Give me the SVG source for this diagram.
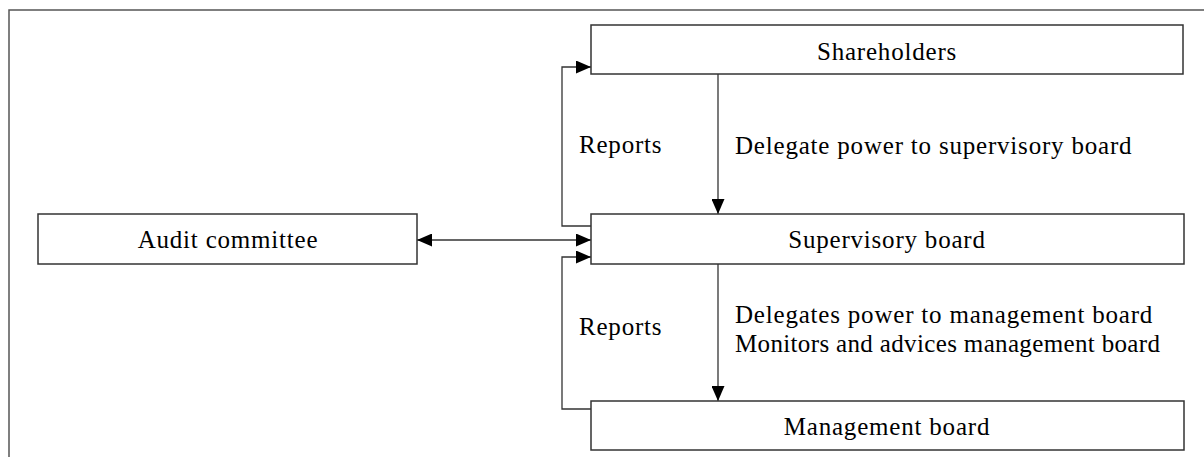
<svg xmlns="http://www.w3.org/2000/svg" width="1204" height="457" viewBox="0 0 1204 457">
<defs>
<style>
.box{fill:#fff;stroke:#333;stroke-width:1.5}
.frame{fill:none;stroke:#555;stroke-width:1.5}
.lbl{font-family:"Liberation Serif","Times New Roman",serif;font-size:25px;fill:#000;letter-spacing:0.8px}
.c{text-anchor:middle}
.tight{letter-spacing:0.35px}
.con{fill:none;stroke:#333;stroke-width:1.3}
</style>
<marker id="ah" viewBox="0 0 15 13" refX="15" refY="6.5" markerWidth="15" markerHeight="13" markerUnits="userSpaceOnUse" orient="auto-start-reverse">
<path d="M0,0 L15,6.5 L0,13 Z" fill="#000"/>
</marker>
</defs>
<rect width="1204" height="457" fill="#fff"/>
<rect class="frame" x="9" y="10" width="1220" height="470"/>
<g id="connectors">
<line class="con" x1="718" y1="74" x2="718" y2="214" marker-end="url(#ah)"/>
<line class="con" x1="718" y1="264" x2="718" y2="401" marker-end="url(#ah)"/>
<line class="con" x1="417" y1="240" x2="591" y2="240" marker-start="url(#ah)" marker-end="url(#ah)"/>
<path class="con" d="M591,226 H562 V67 H591" marker-end="url(#ah)"/>
<path class="con" d="M591,409 H562 V257 H591" marker-end="url(#ah)"/>
<text class="lbl" x="579" y="153">Reports</text>
<text class="lbl" x="735" y="154">Delegate power to supervisory board</text>
<text class="lbl" x="579" y="335">Reports</text>
<text class="lbl" x="735" y="323">Delegates power to management board</text>
<text class="lbl tight" x="735" y="352">Monitors and advices management board</text>
</g>
<g id="shareholders">
<rect class="box" x="591" y="25" width="592" height="49"/>
<text class="lbl c" x="887" y="60">Shareholders</text>
</g>
<g id="supervisory">
<rect class="box" x="591" y="214" width="593" height="50"/>
<text class="lbl c" x="887" y="248">Supervisory board</text>
</g>
<g id="audit">
<rect class="box" x="38" y="214" width="379" height="50"/>
<text class="lbl c" x="228" y="248">Audit committee</text>
</g>
<g id="management">
<rect class="box" x="591" y="401" width="593" height="49"/>
<text class="lbl c" x="887" y="435">Management board</text>
</g>
</svg>
